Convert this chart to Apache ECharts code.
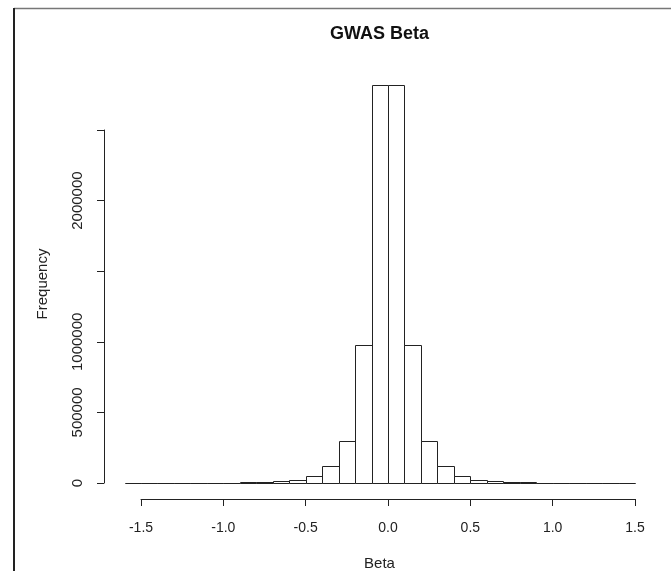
<!DOCTYPE html>
<html>
<head>
<meta charset="utf-8">
<script src="https://cdn.jsdelivr.net/npm/echarts@6/dist/echarts.min.js"></script>
<style>
  html, body { margin: 0; padding: 0; background: #fff; }
  #container { width: 671px; height: 571px; }
</style>
</head>
<body>
<div id="container"></div>
<script>
let chart = echarts.init(document.getElementById('container'));

// histogram bin edges (0.1 wide) and counts
var breaks = [-1.6, -1.5, -1.4, -1.3, -1.2, -1.1, -1.0, -0.9, -0.8, -0.7, -0.6,
              -0.5, -0.4, -0.3, -0.2, -0.1, 0.0, 0.1, 0.2, 0.3, 0.4, 0.5,
              0.6, 0.7, 0.8, 0.9, 1.0, 1.1, 1.2, 1.3, 1.4, 1.5];
var counts = [0, 0, 0, 0, 0, 100, 300, 5000, 7000, 13000,
              21000, 52000, 118000, 298000, 980000, 2822000,
              2822000, 980000, 298000, 118000, 52000, 21000,
              13000, 7000, 5000, 300, 100, 0, 0, 0, 0];

var xTicks = ['-1.5', '-1.0', '-0.5', '0.0', '0.5', '1.0', '1.5'];
// R drops the labels that would overlap
var yTickLabels = {0: '0', 500000: '500000', 1000000: '1000000', 1500000: '',
                   2000000: '2000000', 2500000: ''};

var font = 'Liberation Sans, Arial, sans-serif';
var ink = '#222';

var bins = [];
counts.forEach((c, i) => {
    bins.push([breaks[i], breaks[i + 1], c]);
});

var option = {
    animation: false,
    backgroundColor: '#fff',
    title: {
        text: 'GWAS Beta',
        left: 325,
        top: 20,
        textStyle: {
            fontFamily: font,
            fontSize: 18,
            fontWeight: 'bold',
            color: '#111',
        },
    },
    graphic: [
        {type: 'line', shape: {x1: 14, y1: 8.5, x2: 671, y2: 8.5},
         style: {stroke: '#777', lineWidth: 1.5}},
        {type: 'line', shape: {x1: 14, y1: 8, x2: 14, y2: 571},
         style: {stroke: '#222', lineWidth: 2}},
    ],
    grid: [
        // data region: x from -1.5 to 1.5, y from 0 to 2500000
        {left: 141, right: 36, top: 130, bottom: 88, outerBoundsMode: 'none'},
        // plot region, only used to place the axis titles
        {left: 104, right: 16, top: 69, bottom: 72, outerBoundsMode: 'none'},
    ],
    xAxis: [
        {
            type: 'value',
            gridIndex: 0,
            min: -1.5,
            max: 1.5,
            interval: 0.5,
            offset: 16,
            splitLine: {show: false},
            axisLine: {show: true, onZero: false, lineStyle: {color: ink, width: 1}},
            axisTick: {show: true, length: 7, lineStyle: {color: ink}},
            axisLabel: {
                margin: 22,
                fontFamily: font,
                fontSize: 14,
                color: ink,
                formatter: (v) => xTicks[Math.round((v + 1.5) / 0.5)],
            },
        },
        {
            type: 'value',
            gridIndex: 1,
            min: 0,
            max: 1,
            show: true,
            name: 'Beta',
            nameLocation: 'middle',
            nameGap: 57,
            nameTextStyle: {fontFamily: font, fontSize: 15, color: ink},
            axisLine: {show: false},
            axisTick: {show: false},
            axisLabel: {show: false},
            splitLine: {show: false},
        },
    ],
    yAxis: [
        {
            type: 'value',
            gridIndex: 0,
            min: 0,
            max: 2500000,
            interval: 500000,
            offset: 37,
            splitLine: {show: false},
            axisLine: {show: true, onZero: false, lineStyle: {color: ink, width: 1}},
            axisTick: {show: true, length: 7, lineStyle: {color: ink}},
            axisLabel: {
                rotate: 90,
                margin: 19,
                fontFamily: font,
                fontSize: 15,
                color: ink,
                formatter: (v) => yTickLabels[v],
            },
        },
        {
            type: 'value',
            gridIndex: 1,
            min: 0,
            max: 1,
            name: 'Frequency',
            nameLocation: 'middle',
            nameRotate: 90,
            nameGap: 54,
            nameTextStyle: {fontFamily: font, fontSize: 15, color: ink},
            axisLine: {show: false},
            axisTick: {show: false},
            axisLabel: {show: false},
            splitLine: {show: false},
        },
    ],
    series: [
        {
            type: 'custom',
            xAxisIndex: 0,
            yAxisIndex: 0,
            clip: false,
            renderItem: function (params, api) {
                let p0 = api.coord([api.value(0), api.value(2)]);
                let p1 = api.coord([api.value(1), 0]);
                return {
                    type: 'rect',
                    shape: {
                        x: Math.round(p0[0]) + 0.5,
                        y: Math.round(p0[1]) + 0.5,
                        width: Math.round(p1[0]) - Math.round(p0[0]),
                        height: Math.round(p1[1]) - Math.round(p0[1]),
                    },
                    style: {fill: '#fff', stroke: ink, lineWidth: 1},
                };
            },
            encode: {x: [0, 1], y: 2},
            data: bins,
        },
    ],
};

chart.setOption(option);
</script>
</body>
</html>
